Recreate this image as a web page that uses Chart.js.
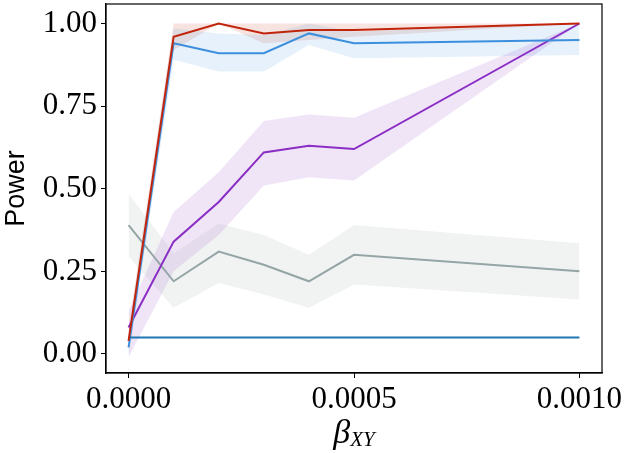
<!DOCTYPE html>
<html>
<head>
<meta charset="utf-8">
<script src="https://cdn.jsdelivr.net/npm/chart.js@4.4.1/dist/chart.umd.min.js"></script>
<style>
  html, body { margin: 0; padding: 0; background: #fff; }
  #wrap { width: 625px; height: 453px; }
</style>
</head>
<body>
<div id="wrap"><canvas id="powerChart" width="625" height="453"></canvas></div>
<script>
// beta_XY values on the x axis
const betas = [0, 0.0001, 0.0002, 0.0003, 0.0004, 0.0005, 0.001];
const xTicks = [0, 0.0005, 0.001];
const yTicks = [0, 0.25, 0.5, 0.75, 1.0];

// power per method: mean line plus lower / upper band
const redMean = [0.04, 0.96, 1.00, 0.97, 0.98, 0.98, 1.00];
const redLow  = [0.01, 0.92, 1.00, 0.94, 0.95, 0.96, 1.00];
const redHigh = [0.08, 1.00, 1.00, 1.00, 1.00, 1.00, 1.00];

const blueMean = [0.02, 0.94, 0.91, 0.91, 0.97, 0.94, 0.95];
const blueLow  = [-0.01, 0.89, 0.855, 0.855, 0.935, 0.895, 0.905];
const blueHigh = [0.06, 0.985, 0.97, 0.965, 1.00, 0.975, 1.00];

const purpleMean = [0.08, 0.34, 0.46, 0.61, 0.63, 0.62, 1.00];
const purpleLow  = [-0.01, 0.25, 0.36, 0.51, 0.535, 0.525, 1.00];
const purpleHigh = [0.13, 0.43, 0.55, 0.705, 0.725, 0.715, 1.00];

const grayMean = [0.39, 0.22, 0.31, 0.27, 0.22, 0.30, 0.25];
const grayLow  = [0.295, 0.14, 0.215, 0.18, 0.14, 0.21, 0.165];
const grayHigh = [0.485, 0.305, 0.395, 0.36, 0.30, 0.39, 0.335];

const flatMean = [0.05, 0.05, 0.05, 0.05, 0.05, 0.05, 0.05];

function pts(ys) {
  return betas.map(function (b, i) { return { x: b, y: ys[i] }; });
}

function hexA(hex, a) {
  const n = parseInt(hex.slice(1), 16);
  return 'rgba(' + (n >> 16) + ',' + ((n >> 8) & 255) + ',' + (n & 255) + ',' + a + ')';
}

function bandSets(low, high, color) {
  return [
    { data: pts(low), borderWidth: 0, pointRadius: 0, fill: false, order: 20 },
    { data: pts(high), borderWidth: 0, pointRadius: 0, fill: '-1',
      backgroundColor: hexA(color, 0.13), order: 20 }
  ];
}

function lineSet(ys, color, order) {
  return { data: pts(ys), borderColor: color, borderWidth: 2, pointRadius: 0,
    fill: false, tension: 0, order: order };
}

const cRed = '#c0250c', cBlue = '#3c8fdd', cPurple = '#8a2ec4',
      cGray = '#95a5a6', cDark = '#1f77b4';

const datasets = [].concat(
  bandSets(grayLow, grayHigh, cGray),
  bandSets(purpleLow, purpleHigh, cPurple),
  bandSets(blueLow, blueHigh, cBlue),
  bandSets(redLow, redHigh, cRed),
  [
    lineSet(grayMean, cGray, 5),
    lineSet(purpleMean, cPurple, 4),
    lineSet(blueMean, cBlue, 3),
    lineSet(flatMean, cDark, 2),
    lineSet(redMean, cRed, 1)
  ]
);

// frame on all four sides + the beta_XY label with subscript
const framePlugin = {
  id: 'frame',
  afterDraw: function (chart) {
    const a = chart.chartArea;
    const ctx = chart.ctx;
    ctx.save();
    ctx.strokeStyle = '#000';
    ctx.lineWidth = 1.2;
    ctx.strokeRect(a.left, a.top, a.right - a.left, a.bottom - a.top);

    const cx = (a.left + a.right) / 2;
    ctx.fillStyle = '#000';
    ctx.textBaseline = 'alphabetic';
    ctx.textAlign = 'left';
    ctx.font = 'italic 34px "Liberation Serif"';
    const bw = ctx.measureText('β').width;
    ctx.font = 'italic 21px "Liberation Serif"';
    const sw = ctx.measureText('XY').width;
    const x0 = cx - (bw + sw) / 2;
    ctx.font = 'italic 34px "Liberation Serif"';
    ctx.fillText('β', x0, 443);
    ctx.font = 'italic 21px "Liberation Serif"';
    ctx.fillText('XY', x0 + bw, 446);
    ctx.restore();
  }
};

new Chart(document.getElementById('powerChart'), {
  type: 'line',
  data: { datasets: datasets },
  plugins: [framePlugin],
  options: {
    responsive: false,
    animation: false,
    layout: { padding: { top: 4, right: 23, left: 0, bottom: 0 } },
    plugins: {
      legend: { display: false },
      tooltip: { enabled: false },
      filler: { drawTime: 'beforeDatasetsDraw' }
    },
    scales: {
      x: {
        type: 'linear',
        min: -0.00005,
        max: 0.00105,
        afterBuildTicks: function (s) { s.ticks = xTicks.map(function (v) { return { value: v }; }); },
        afterFit: function (s) {
          s.height = 80;
          s.paddingLeft = 0;
          s.paddingRight = 0;
        },
        ticks: {
          color: '#000',
          padding: 3,
          maxRotation: 0,
          font: { family: '"Liberation Serif"', size: 31 },
          callback: function (v) { return Number(v).toFixed(4); }
        },
        grid: { drawOnChartArea: false, drawTicks: true, tickLength: 5, color: '#000' },
        border: { color: '#000', width: 1.2 }
      },
      y: {
        min: -0.0575,
        max: 1.059,
        afterBuildTicks: function (s) { s.ticks = yTicks.map(function (v) { return { value: v }; }); },
        afterFit: function (s) {
          s.width = 106;
          s.paddingTop = 0;
          s.paddingBottom = 0;
        },
        ticks: {
          color: '#000',
          padding: 4,
          font: { family: '"Liberation Serif"', size: 31 },
          callback: function (v) { return Number(v).toFixed(2); }
        },
        grid: { drawOnChartArea: false, drawTicks: true, tickLength: 5, color: '#000' },
        border: { color: '#000', width: 1.2 },
        title: {
          display: true,
          text: 'Power',
          color: '#000',
          padding: 0,
          font: { family: '"Liberation Sans"', size: 27 }
        }
      }
    }
  }
});
</script>
</body>
</html>
